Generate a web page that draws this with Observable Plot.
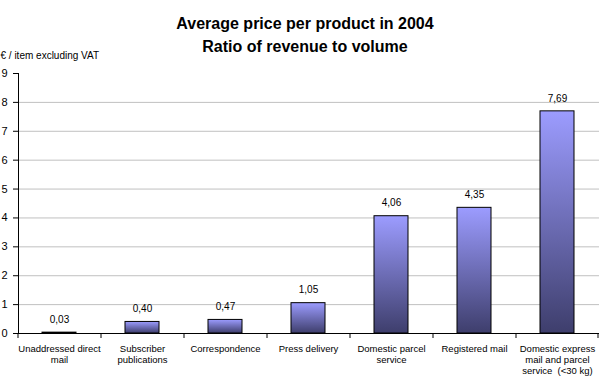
<!DOCTYPE html>
<html><head><meta charset="utf-8">
<script src="https://cdn.jsdelivr.net/npm/d3@7"></script>
<script src="https://cdn.jsdelivr.net/npm/@observablehq/plot@0.6"></script>
<style>body{margin:0;background:#fff;}</style>
</head><body><div id="chart"></div>
<script>
const categories = [
  "Unaddressed direct\nmail",
  "Subscriber\npublications",
  "Correspondence",
  "Press delivery",
  "Domestic parcel\nservice",
  "Registered mail",
  "Domestic express\nmail and parcel\nservice  (<30 kg)"
];
const values = [0.03, 0.40, 0.47, 1.05, 4.06, 4.35, 7.69];
const valueLabels = ["0,03", "0,40", "0,47", "1,05", "4,06", "4,35", "7,69"];
const yTicks = [0, 1, 2, 3, 4, 5, 6, 7, 8, 9];
const gridTicks = [1, 2, 3, 4, 5, 6, 7, 8];
const title1 = "Average price per product in 2004";
const title2 = "Ratio of revenue to volume";
const yLabel = "€ / item excluding VAT";

const data = categories.map((c, i) => ({category: c, value: values[i], label: valueLabels[i]}));

const W = 605, H = 384, mL = 18, mR = 6, mT = 73, mB = 51;
const cellHalf = (W - mL - mR) / categories.length / 2;
const tickLen = 5 / ((H - mT - mB) / 9);

const plot = Plot.plot({
  width: W, height: H,
  marginLeft: mL, marginRight: mR, marginTop: mT, marginBottom: mB,
  style: {fontFamily: "'Liberation Sans', Arial, sans-serif", background: "white", color: "black"},
  x: {domain: categories, paddingInner: 0.59, paddingOuter: 0.295, label: null},
  y: {domain: [0, 9], label: null},
  marks: [
    Plot.ruleY(gridTicks, {stroke: "#c0c0c0"}),
    Plot.barY(data, {x: "category", y: "value", fill: "url(#barGrad)", stroke: "black", strokeWidth: 1}),
    Plot.ruleY([0], {stroke: "black"}),
    Plot.frame({anchor: "left", stroke: "black"}),
    Plot.axisY(yTicks, {tickSize: 5, tickPadding: 6, fontSize: 11, tickFormat: d => String(d), label: null}),
    Plot.axisX({tickSize: 0, tickPadding: 10, fontSize: 9.5, lineHeight: 1.2, label: null}),
    Plot.ruleX(categories, {x: d => d, dx: -cellHalf, y1: 0, y2: -tickLen, stroke: "black"}),
    Plot.ruleX(categories.slice(-1), {x: d => d, dx: cellHalf - 1, y1: 0, y2: -tickLen, stroke: "black"}),
    Plot.text(data, {x: "category", y: "value", text: "label", dy: -13, fontSize: 10}),
    Plot.text([title1], {text: d => d, frameAnchor: "top", dx: -4, dy: -56, fontSize: 16, fontWeight: "bold"}),
    Plot.text([title2], {text: d => d, frameAnchor: "top", dx: -4, dy: -33, fontSize: 16, fontWeight: "bold"}),
    Plot.text([yLabel], {text: d => d, frameAnchor: "top-left", dx: -mL, dy: -22, textAnchor: "start", fontSize: 10})
  ]
});

d3.select(plot).insert("defs", ":first-child").html(
  '<linearGradient id="barGrad" x1="0" y1="0" x2="0" y2="1">' +
  '<stop offset="0" stop-color="#9c9cff"/><stop offset="1" stop-color="#3e3e6c"/></linearGradient>'
);
document.getElementById("chart").appendChild(plot);
</script>
</body></html>
